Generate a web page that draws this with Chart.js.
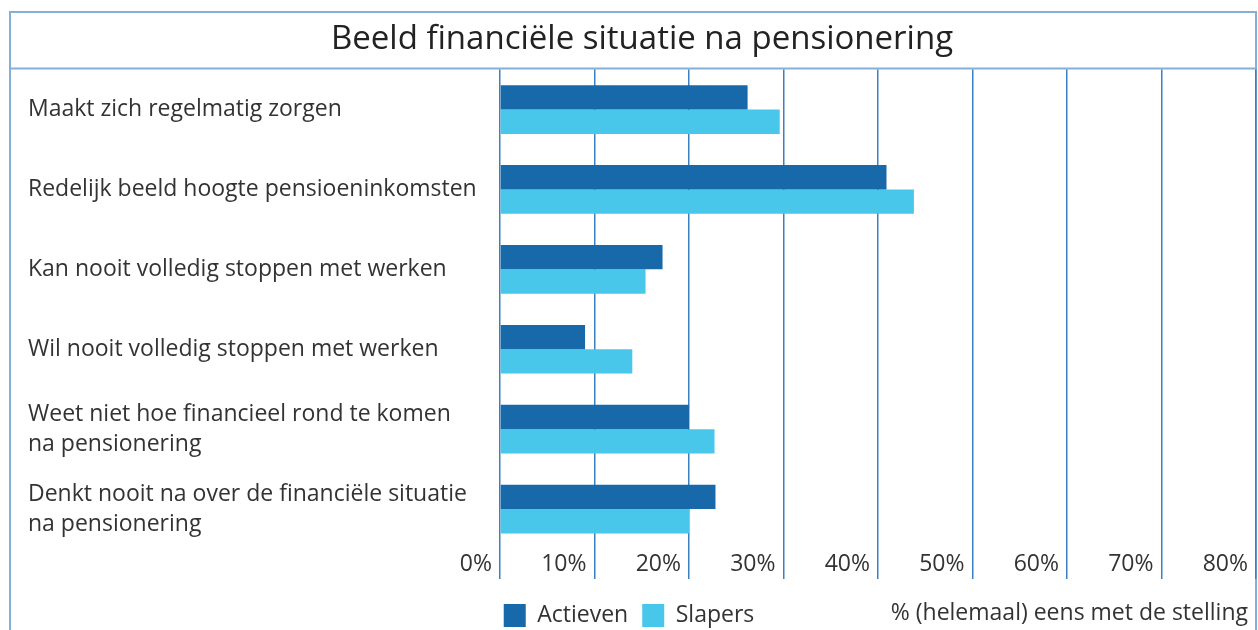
<!DOCTYPE html>
<html>
<head>
<meta charset="utf-8">
<script src="https://cdn.jsdelivr.net/npm/chart.js@4.4.1/dist/chart.umd.min.js"></script>
<style>
  html, body { margin: 0; padding: 0; background: #fff; }
  #wrap { width: 1258px; height: 630px; }
</style>
</head>
<body>
<div id="wrap"><canvas id="pensionChart" width="1258" height="630"></canvas></div>
<script>
// data
const categories = [
    'Maakt zich regelmatig zorgen',
    'Redelijk beeld hoogte pensioeninkomsten',
    'Kan nooit volledig stoppen met werken',
    'Wil nooit volledig stoppen met werken',
    ['Weet niet hoe financieel rond te komen', 'na pensionering'],
    ['Denkt nooit na over de financiële situatie', 'na pensionering']
];
const actieven = [26.2, 40.9, 17.2, 9.0, 20.0, 22.8];
const slapers = [29.6, 43.8, 15.4, 14.0, 22.7, 20.0];
const seriesNames = ['Actieven', 'Slapers'];
const axisNote = '% (helemaal) eens met de stelling';

const FONT = '"Open Sans", "Noto Sans", sans-serif';
const TEXT = '#333333';
const FRAME = '#84afd6';
const GRID = '#3b80c0';

// outer box + line under the title, and the note next to the legend
const framePlugin = {
    id: 'frame',
    afterLayout(chart) {
        // center the legend on the whole canvas, not on the padded area
        const lg = chart.legend;
        const shift = chart.width / 2 - (lg.left + lg.right) / 2;
        lg.left += shift;
        lg.right += shift;
    },
    beforeDraw(chart) {
        const ctx = chart.ctx;
        const tb = chart.titleBlock;
        ctx.save();
        ctx.strokeStyle = FRAME;
        ctx.lineWidth = 2;
        ctx.beginPath();
        ctx.moveTo(10, chart.height + 2);
        ctx.lineTo(10, 12);
        ctx.lineTo(1256, 12);
        ctx.lineTo(1256, chart.height + 2);
        ctx.moveTo(10, tb.bottom - 1);
        ctx.lineTo(1256, tb.bottom - 1);
        ctx.stroke();
        ctx.restore();
    },
    afterDraw(chart) {
        const ctx = chart.ctx;
        const lg = chart.legend;
        ctx.save();
        ctx.fillStyle = TEXT;
        ctx.font = '23px ' + FONT;
        ctx.textAlign = 'right';
        ctx.textBaseline = 'middle';
        ctx.fillText(axisNote, chart.chartArea.right - 8, (lg.top + lg.bottom) / 2);
        ctx.restore();
    }
};

const ctx = document.getElementById('pensionChart').getContext('2d');
new Chart(ctx, {
    type: 'bar',
    data: {
        labels: categories,
        datasets: [
            { label: seriesNames[0], data: actieven, backgroundColor: '#1769a9' },
            { label: seriesNames[1], data: slapers, backgroundColor: '#48c7ea' }
        ]
    },
    options: {
        indexAxis: 'y',
        responsive: false,
        animation: false,
        categoryPercentage: 0.61,
        barPercentage: 1.0,
        layout: { padding: { left: 28, right: 2, top: 12, bottom: -7 } },
        plugins: {
            title: {
                display: true,
                text: 'Beeld financiële situatie na pensionering',
                color: '#222222',
                font: { family: FONT, size: 33, weight: 'normal' },
                padding: { top: 8, bottom: 10 }
            },
            legend: {
                position: 'bottom',
                labels: {
                    color: TEXT,
                    font: { family: FONT, size: 23 },
                    boxWidth: 22,
                    boxHeight: 23,
                    padding: 14
                }
            },
            tooltip: { enabled: false }
        },
        scales: {
            x: {
                min: 0,
                max: 80,
                z: 1,
                border: { display: false },
                grid: {
                    color: GRID,
                    lineWidth: 1.5,
                    tickColor: GRID,
                    tickLength: 30
                },
                ticks: {
                    stepSize: 10,
                    align: 'end',
                    labelOffset: -8,
                    padding: -28,
                    color: TEXT,
                    font: { family: FONT, size: 23 },
                    callback: v => v + '%'
                },
                afterFit(scale) { scale.height = 41; }
            },
            y: {
                grid: { display: false },
                border: { display: false },
                ticks: {
                    crossAlign: 'far',
                    color: TEXT,
                    font: { family: FONT, size: 23, lineHeight: 1.3 }
                },
                afterFit(scale) { scale.width = 472; }
            }
        }
    },
    plugins: [framePlugin]
});
</script>
</body>
</html>
